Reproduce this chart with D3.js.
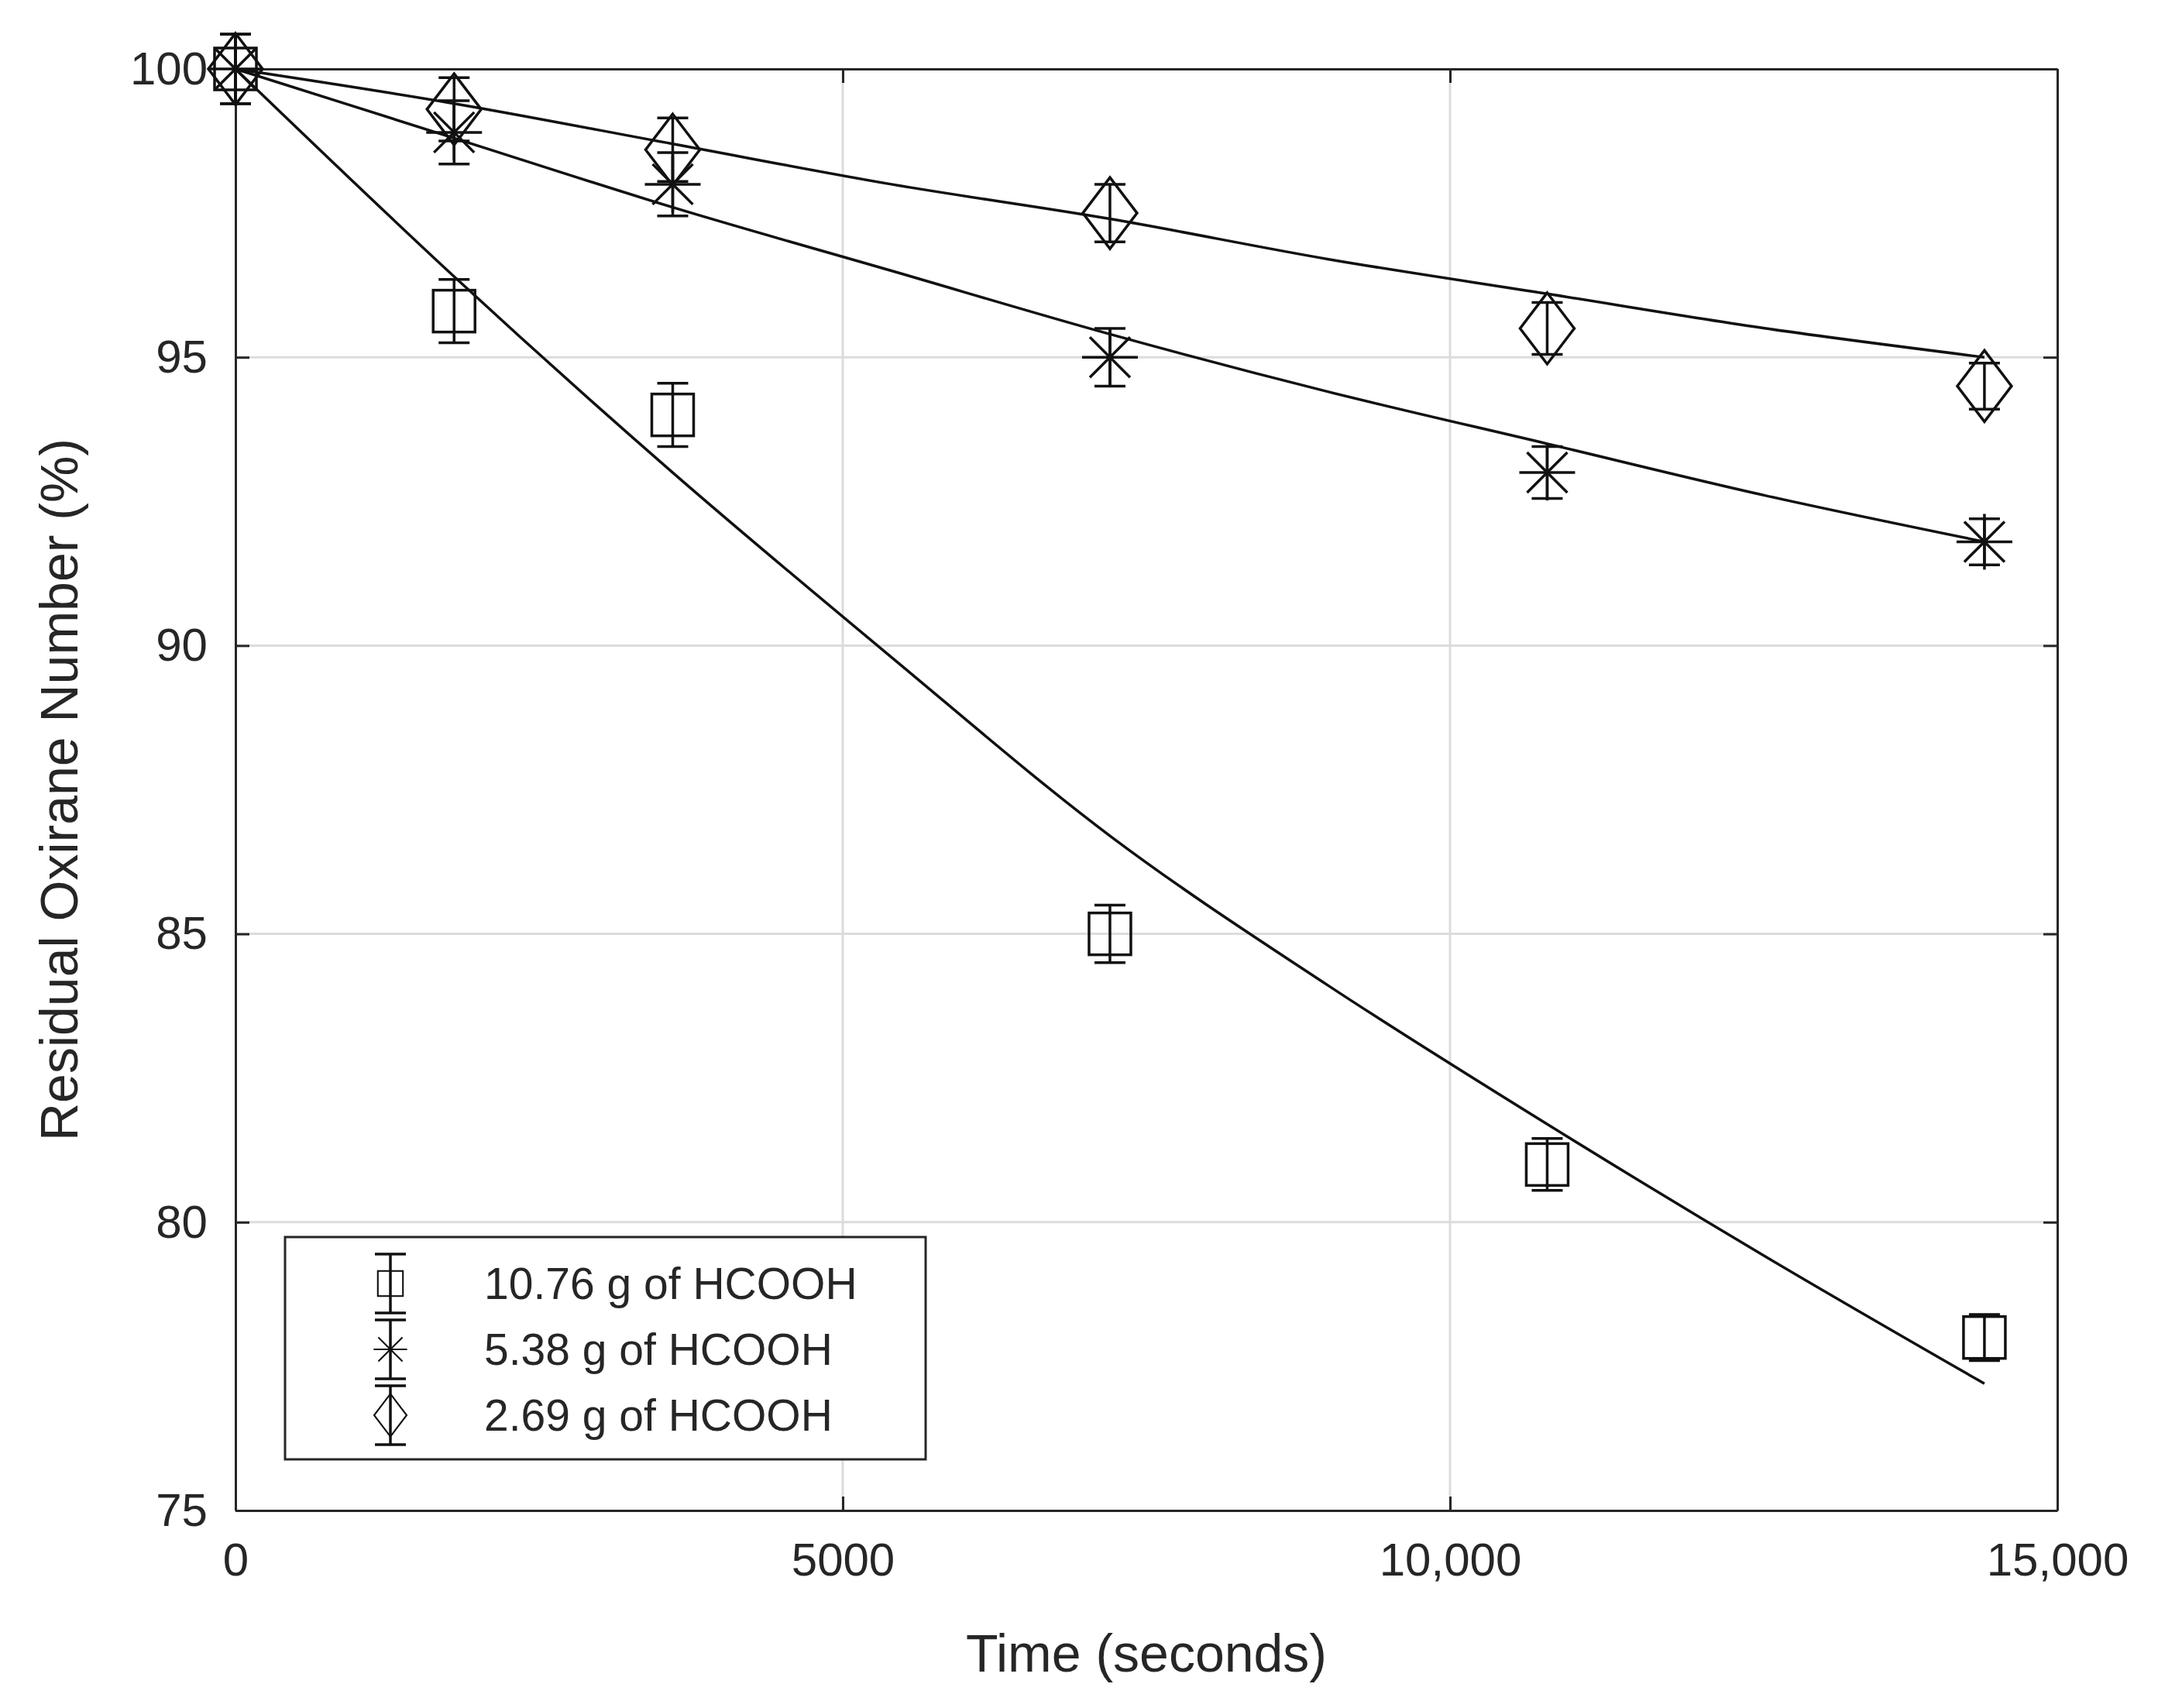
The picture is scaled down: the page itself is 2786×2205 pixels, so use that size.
<!DOCTYPE html><html><head><meta charset="utf-8"><script src="https://d3js.org/d3.v7.min.js"></script>
<style>body{margin:0;background:#fff}svg{display:block}text{font-family:"Liberation Sans",Arial,sans-serif;fill:#262626}</style></head><body><script>
const times=[0,1800,3600,7200,10800,14400];
const sqVals=[100,95.8,94,85,81,78];
const starVals=[100,98.9,98,95,93,91.8];
const diaVals=[100,99.3,98.6,97.5,95.5,94.5];
const errVals=[0.6,0.55,0.55,0.5,0.45,0.4];
const fitTimes=[0,1800,3600,5400,7200,9000,10800,12600,14400];
const sqFit=[100,96.4,93.0,89.8,86.7,84.1,81.7,79.4,77.2];
const starFit=[100,98.8,97.6,96.5,95.4,94.4,93.5,92.6,91.8];
const diaFit=[100,99.4,98.7,98.0,97.4,96.7,96.1,95.5,95.0];
const xTicks=[0,5000,10000,15000], xLabels=["0","5000","10,000","15,000"];
const yTicks=[75,80,85,90,95,100];
const labels=["10.76 g of HCOOH","5.38 g of HCOOH","2.69 g of HCOOH"];

const W=2786,H=2205,L=304,R=2656,T=89,B=1950;
const svg=d3.select("body").append("svg").attr("width",W).attr("height",H);
const x=d3.scaleLinear().domain([0,15000]).range([L,R]);
const y=d3.scaleLinear().domain([75,100]).range([B,T]);
const g=svg.append("g");
// grid
g.selectAll(".gx").data(xTicks.slice(1,-1)).join("line").attr("x1",d=>x(d)).attr("x2",d=>x(d)).attr("y1",T).attr("y2",B).attr("stroke","#dcdcdc").attr("stroke-width",3);
g.selectAll(".gy").data(yTicks.slice(1,-1)).join("line").attr("y1",d=>y(d)).attr("y2",d=>y(d)).attr("x1",L).attr("x2",R).attr("stroke","#dcdcdc").attr("stroke-width",3);
// axes
const ax=(a)=>a.tickSizeInner(-18).tickSizeOuter(0).tickPadding(30);
const fs=60;
const xa=svg.append("g").attr("transform",`translate(0,${B})`).call(ax(d3.axisBottom(x).tickValues(xTicks).tickFormat((d,i)=>xLabels[i])));
svg.append("g").attr("transform",`translate(0,${T})`).call(ax(d3.axisTop(x).tickValues(xTicks).tickFormat("")));
const ya=svg.append("g").attr("transform",`translate(${L},0)`).call(ax(d3.axisLeft(y).tickValues(yTicks)));
svg.append("g").attr("transform",`translate(${R},0)`).call(ax(d3.axisRight(y).tickValues(yTicks).tickFormat("")));
svg.selectAll(".domain").attr("stroke","#262626").attr("stroke-width",3);
svg.selectAll(".tick line").attr("stroke","#262626").attr("stroke-width",3);
svg.selectAll(".tick text").attr("font-size",fs).style("fill","#262626");
xa.selectAll(".tick text").attr("dy","0.9em");
ya.selectAll(".tick text").attr("dx","-0.1em");
svg.append("text").attr("x",(L+R)/2).attr("y",2158).attr("text-anchor","middle").attr("font-size",68).text("Time (seconds)");
svg.append("text").attr("transform",`translate(100,${(T+B)/2}) rotate(-90)`).attr("text-anchor","middle").attr("font-size",68).text("Residual Oxirane Number (%)");
// fits
const line=d3.line().x((d,i)=>x(fitTimes[i])).y(d=>y(d)).curve(d3.curveMonotoneX);
[sqFit,starFit,diaFit].forEach(f=>svg.append("path").attr("d",line(f)).attr("fill","none").attr("stroke","#111").attr("stroke-width",3.5));
// markers
function marker(sel,type,cx,cy){
  const s=sel.append("g").attr("fill","none").attr("stroke","#111").attr("stroke-width",3.5);
  if(type==0) s.append("rect").attr("x",cx-27).attr("y",cy-27).attr("width",54).attr("height",54);
  else if(type==1){[[0,-36,0,36],[-36,0,36,0],[-26,-26,26,26],[-26,26,26,-26]].forEach(p=>s.append("line").attr("x1",cx+p[0]).attr("y1",cy+p[1]).attr("x2",cx+p[2]).attr("y2",cy+p[3]));}
  else s.append("path").attr("d",`M${cx},${cy-46}L${cx+35},${cy}L${cx},${cy+46}L${cx-35},${cy}Z`);
}
function ebar(sel,cx,y1,y2){
  const s=sel.append("g").attr("stroke","#111").attr("stroke-width",3.5);
  s.append("line").attr("x1",cx).attr("x2",cx).attr("y1",y1).attr("y2",y2);
  [y1,y2].forEach(v=>s.append("line").attr("x1",cx-20).attr("x2",cx+20).attr("y1",v).attr("y2",v));
}
[sqVals,starVals,diaVals].forEach((vals,k)=>{
  vals.forEach((v,i)=>{ebar(svg,x(times[i]),y(v+errVals[i]),y(v-errVals[i]));marker(svg,k,x(times[i]),y(v));});
});
// legend
svg.append("rect").attr("x",368).attr("y",1597).attr("width",827).attr("height",287).attr("fill","#fff").attr("stroke","#262626").attr("stroke-width",3);
labels.forEach((t,k)=>{
  const cy=1657+k*85;
  ebar(svg,504,cy-38,cy+38);
  const sc=svg.append("g").attr("transform",`translate(504,${cy}) scale(0.6) translate(-504,${-cy})`);
  marker(sc,k,504,cy);
  svg.append("text").attr("x",625).attr("y",cy).attr("dy","0.35em").attr("font-size",57).text(t);
});
</script></body></html>
